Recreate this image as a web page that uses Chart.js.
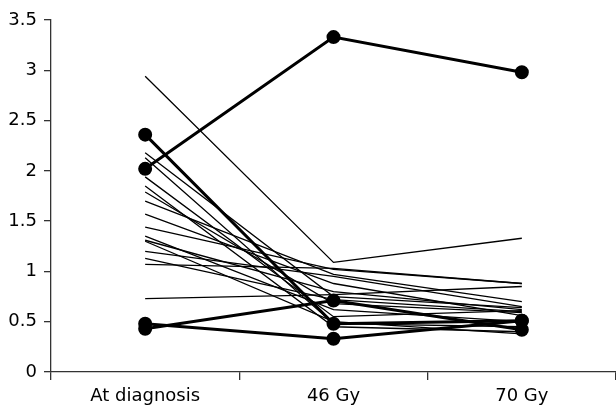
<!DOCTYPE html>
<html>
<head>
<meta charset="utf-8">
<script src="https://cdn.jsdelivr.net/npm/chart.js@4"></script>
<style>
  html, body { margin: 0; padding: 0; background: #fff; }
  #wrap { width: 616px; height: 407px; position: relative; }
</style>
</head>
<body>
<div id="wrap"><canvas id="chart"></canvas></div>
<script>
// categories along the x axis
const timepoints = ['At diagnosis', '46 Gy', '70 Gy'];

// y tick labels
const yTicks = [0, 0.5, 1, 1.5, 2, 2.5, 3, 3.5];

// thin lines: one patient each, values at diagnosis / 46 Gy / 70 Gy
const thinSeries = [
  [2.94, 1.09, 1.33],
  [2.18, 0.75, 0.64],
  [2.13, 0.48, 0.45],
  [1.94, 0.55, 0.61],
  [1.85, 0.45, 0.40],
  [1.79, 0.68, 0.59],
  [1.70, 0.97, 0.70],
  [1.57, 0.88, 0.56],
  [1.44, 1.02, 0.88],
  [1.35, 0.62, 0.50],
  [1.31, 0.80, 0.62],
  [1.30, 0.50, 0.38],
  [1.20, 0.95, 0.65],
  [1.13, 0.72, 0.60],
  [1.07, 1.03, 0.88],
  [0.73, 0.77, 0.85]
];

// thick lines with markers
const thickSeries = [
  [2.02, 3.33, 2.98],
  [2.36, 0.48, 0.51],
  [0.43, 0.71, 0.42],
  [0.48, 0.33, 0.51]
];

const datasets = [];
thinSeries.forEach((vals, i) => {
  datasets.push({
    label: 'thin ' + (i + 1),
    data: vals,
    borderColor: '#000',
    borderWidth: 1.3,
    pointRadius: 0,
    tension: 0,
    fill: false,
  });
});
thickSeries.forEach((vals, i) => {
  datasets.push({
    label: 'thick ' + (i + 1),
    data: vals,
    borderColor: '#000',
    backgroundColor: '#000',
    borderWidth: 3,
    pointRadius: 5.5,
    pointBackgroundColor: '#000',
    pointBorderColor: '#000',
    tension: 0,
    fill: false,
  });
});

const axisFont = { family: '"DejaVu Sans", Arial, sans-serif', size: 18 };

new Chart(document.getElementById('chart'), {
  type: 'line',
  data: { labels: timepoints, datasets },
  options: {
    responsive: true,
    maintainAspectRatio: false,
    animation: false,
    layout: { autoPadding: false, padding: { top: 20, right: 0, left: 0, bottom: 0 } },
    plugins: {
      legend: { display: false },
      tooltip: { enabled: false },
    },
    scales: {
      x: {
        offset: true,
        grid: {
          offset: true,
          drawOnChartArea: false,
          tickLength: 8,
          color: '#333',
          lineWidth: 1.3,
        },
        border: { color: '#333', width: 1.3 },
        ticks: { color: '#000', font: axisFont, padding: 6, maxRotation: 0 },
        afterFit: (scale) => { scale.height = 35; },
      },
      y: {
        min: 0,
        max: 3.5,
        afterBuildTicks: (scale) => { scale.ticks = yTicks.map((v) => ({ value: v })); },
        grid: {
          drawOnChartArea: false,
          tickLength: 7,
          color: '#333',
          lineWidth: 1.3,
        },
        border: { color: '#333', width: 1.3 },
        ticks: {
          color: '#000',
          font: axisFont,
          padding: 7,
          callback: (value) => String(value),
        },
        afterFit: (scale) => { scale.width = 51; },
      },
    },
  },
});
</script>
</body>
</html>
